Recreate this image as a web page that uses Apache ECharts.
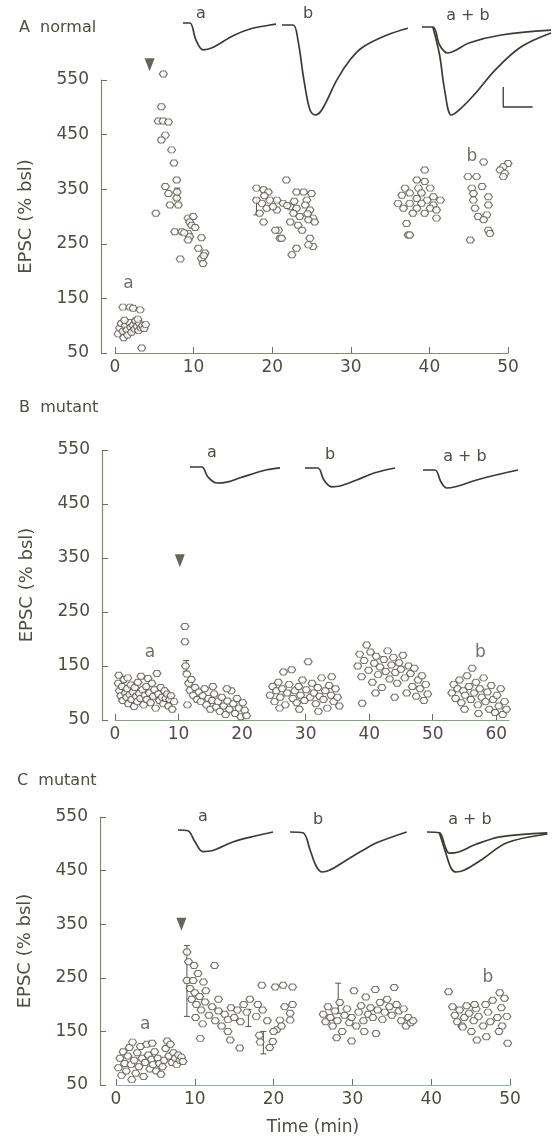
<!DOCTYPE html>
<html>
<head>
<meta charset="utf-8">
<script src="https://cdn.jsdelivr.net/npm/echarts@6.0.0/dist/echarts.min.js"></script>
<style>
  html, body { margin: 0; padding: 0; background: #fff; }
  #chart { width: 554px; height: 1144px; }
</style>
</head>
<body>
<div id="chart"></div>
<script>
// EPSC (% of baseline) against time (min) -- [time, value]
const normalBaseline = [[0.4,85],[0.6,96],[0.8,104],[1.0,90],[1.1,78],[1.3,100],[1.5,92],[1.6,83],[1.8,106],[2.0,97],[2.1,88],[2.3,101],[2.5,94],[2.6,109],[2.8,99],[3.0,91],[3.1,104],[3.3,96],[3.5,100],[3.7,95],[3.9,102],[1.0,134],[1.9,134],[2.3,132],[3.2,129],[3.4,59],[1.2,110],[2.9,112]];
const normalPost = [[6.15,561],[5.9,501],[5.5,475],[6.1,475],[6.8,473],[6.4,449],[5.9,440],[7.2,422],[7.5,398],[7.85,367],[6.4,355],[6.8,342],[7.85,334],[8.05,321],[7.0,321],[5.2,306],[9.3,297],[9.95,300],[9.5,290],[9.75,284],[7.6,272],[8.5,272],[9.3,269],[9.5,263],[9.3,257],[11.0,261],[10.6,242],[11.45,233],[11.0,223],[11.2,214],[8.3,222],[8.8,270],[10.2,280],[11.3,228],[7.9,345]];
const normalMid = [[18.0,352],[18.9,349],[19.5,345],[20.6,330],[18.0,330],[18.7,324],[19.3,315],[20.6,312],[18.9,290],[18.4,306],[20.8,275],[21.0,260],[21.8,367],[23.1,345],[24.0,345],[25.0,342],[24.4,330],[24.2,321],[19.7,330],[21.4,324],[22.3,318],[23.1,315],[24.8,312],[25.2,297],[24.6,294],[25.4,290],[22.7,306],[23.5,300],[22.3,290],[23.3,284],[23.8,275],[20.4,275],[21.2,260],[24.8,260],[25.2,245],[24.6,248],[23.1,242],[22.5,230],[19.0,338],[21.9,320],[22.8,328],[20.1,318],[24.5,305]];
const normalLate = [[38.4,367],[39.4,385],[39.4,364],[36.9,352],[37.5,343],[38.6,352],[40.1,352],[39.0,343],[40.5,336],[36.5,339],[38.4,333],[39.7,330],[41.4,330],[36.0,324],[37.5,324],[39.0,324],[40.5,321],[36.7,315],[38.4,315],[40.1,315],[40.9,312],[37.9,306],[39.4,306],[40.9,297],[37.1,287],[37.3,266],[37.5,266]];
const normalEnd = [[46.9,400],[50.0,397],[49.4,391],[49.0,385],[49.6,379],[49.4,373],[44.9,373],[46.0,373],[45.4,352],[46.7,355],[45.6,342],[45.6,330],[47.5,336],[45.8,315],[47.5,321],[46.2,300],[47.3,303],[46.9,294],[47.5,275],[47.7,269],[45.2,257]];

const mutantBBaseline = [[0.5,118],[0.7,104],[0.9,95],[1.1,112],[1.2,86],[1.4,125],[1.6,100],[1.8,92],[1.9,108],[2.1,80],[2.3,97],[2.5,115],[2.6,88],[2.8,102],[3.0,75],[3.1,110],[3.3,94],[3.5,84],[3.6,120],[3.8,99],[4.0,90],[4.1,131],[4.3,106],[4.5,78],[4.7,96],[4.9,112],[5.0,88],[5.2,127],[5.4,100],[5.6,82],[5.8,118],[6.0,94],[6.2,106],[6.4,72],[6.6,136],[6.8,98],[7.0,86],[7.2,110],[7.4,92],[7.6,80],[7.8,104],[8.0,90],[8.2,98],[8.4,76],[8.6,88],[8.8,95],[9.0,70],[9.3,84],[0.6,133],[2.0,128]];
const mutantBPost = [[11.0,223],[11.0,195],[11.1,150],[11.3,135],[11.4,78],[11.6,118],[11.8,105],[12.0,125],[12.3,96],[12.6,110],[12.9,88],[13.2,102],[13.5,84],[13.8,95],[14.1,108],[14.4,78],[14.7,90],[15.0,70],[15.3,86],[15.6,98],[15.9,74],[16.2,84],[16.5,66],[16.8,92],[17.1,76],[17.4,60],[17.7,85],[18.0,70],[18.3,104],[18.6,80],[18.9,62],[19.2,90],[19.5,72],[19.8,56],[20.1,82],[20.4,68],[20.7,58],[15.4,112],[17.6,108]];
const mutantBMid = [[24.4,96],[24.8,112],[25.1,84],[25.4,104],[25.7,120],[26.0,92],[26.3,108],[26.5,139],[26.8,78],[27.1,100],[27.4,116],[27.8,143],[28.0,90],[28.3,104],[28.6,82],[28.9,112],[29.2,96],[29.5,124],[29.8,86],[30.1,106],[30.4,158],[30.7,92],[31.0,118],[31.3,100],[31.6,80],[31.9,110],[32.2,94],[32.5,128],[32.8,88],[33.1,104],[33.4,72],[33.7,114],[34.0,96],[34.1,130],[34.4,84],[34.7,108],[35.0,92],[35.3,76],[25.9,72],[32.0,66],[29.0,70]];
const mutantBLate = [[38.2,150],[38.5,172],[38.8,130],[38.9,81],[39.2,160],[39.6,189],[39.9,142],[40.2,176],[40.5,120],[40.8,155],[41.1,168],[41.4,134],[41.7,148],[42.0,110],[42.3,162],[42.6,140],[42.9,178],[43.2,126],[43.5,152],[43.8,166],[44.1,138],[44.4,118],[44.7,156],[45.0,144],[45.3,170],[45.6,128],[45.9,100],[46.2,150],[46.5,136],[46.8,112],[47.1,146],[47.4,94],[47.7,124],[48.0,108],[48.3,132],[48.6,86],[48.9,116],[49.2,98],[44.0,92],[41.0,100]];
const mutantBEnd = [[53.0,100],[53.3,116],[53.6,90],[53.9,108],[54.2,124],[54.5,82],[54.8,104],[55.1,96],[55.4,132],[55.7,112],[56.0,88],[56.2,146],[56.5,100],[56.8,120],[57.1,78],[57.4,108],[57.7,92],[58.0,128],[58.3,84],[58.6,102],[58.9,70],[59.2,114],[59.5,88],[59.8,64],[60.1,96],[60.4,76],[60.7,108],[61.0,60],[61.3,84],[61.6,70],[55.0,70],[57.2,62]];

const mutantCBaseline = [[0.3,82],[0.5,100],[0.7,68],[0.9,112],[1.1,90],[1.3,76],[1.5,104],[1.7,120],[1.9,88],[2.1,130],[2.3,96],[2.5,72],[2.7,110],[2.9,84],[3.1,122],[3.3,100],[3.5,66],[3.7,92],[3.9,126],[4.1,106],[4.3,80],[4.5,98],[4.7,88],[4.9,112],[5.1,76],[5.3,100],[5.5,90],[5.7,70],[5.9,84],[6.1,96],[6.3,118],[6.5,132],[6.7,104],[6.9,126],[7.1,92],[7.3,110],[7.5,100],[7.7,88],[7.9,106],[8.1,96],[8.3,102],[8.5,94],[4.6,128],[2.0,60]];
const mutantCPost = [[9.0,298],[9.2,280],[9.9,273],[12.5,273],[10.4,258],[9.0,245],[9.8,245],[11.1,242],[9.4,230],[10.0,222],[10.6,215],[11.4,226],[9.6,210],[10.2,200],[10.8,190],[11.3,205],[11.8,180],[12.2,196],[12.6,170],[13.0,188],[13.4,160],[13.8,182],[14.2,172],[14.6,194],[15.0,176],[15.4,190],[15.8,168],[16.2,200],[16.6,186],[17.0,210],[11.0,164],[10.7,137],[14.5,134],[15.7,119],[10.1,176],[13.0,210],[14.2,150]];
const mutantCPost2 = [[18.5,236],[20.2,233],[21.2,236],[22.4,233],[18.0,200],[18.6,190],[19.2,170],[18.2,143],[18.3,130],[21.4,196],[22.1,184],[20.8,171],[22.1,171],[20.4,153],[19.9,131],[21.0,160],[22.4,200],[20.0,150],[17.8,178],[19.5,120]];
const mutantCMid = [[26.3,182],[26.6,168],[26.9,196],[27.2,176],[27.5,160],[27.8,188],[28.1,170],[28.4,204],[28.7,150],[29.0,180],[29.3,192],[29.6,166],[29.9,176],[30.2,226],[30.5,160],[30.8,186],[31.1,198],[31.4,170],[31.7,214],[32.0,182],[32.3,194],[32.6,176],[32.9,228],[33.2,190],[33.5,204],[33.8,172],[34.1,186],[34.4,210],[34.7,196],[35.0,180],[35.3,232],[35.6,200],[35.9,188],[36.2,170],[36.5,192],[36.8,160],[37.1,176],[37.4,166],[37.7,170],[28.0,138],[29.9,132],[31.5,150],[33.0,146]];
const mutantCEnd = [[42.2,224],[42.7,196],[43.0,180],[43.3,168],[43.6,190],[43.9,160],[44.2,176],[44.5,198],[44.8,184],[45.1,150],[45.4,170],[45.7,192],[46.0,178],[45.8,134],[46.6,160],[46.9,200],[47.2,186],[47.5,168],[47.8,208],[48.7,222],[48.4,176],[48.9,194],[49.0,160],[49.3,212],[49.6,178],[49.7,128],[48.6,150],[44.0,158],[47.0,140],[45.5,200]];

// error bars [time, low, high]
const errA = [[7.9,330,352],[18.0,303,334]];
const errB = [[11.2,140,160]];
const errC = [[9.0,178,310],[16.8,159,191],[18.7,108,150],[28.2,184,240]];

// stimulus arrows [time, value]
const arrowA = [[4.4,578]];
const arrowB = [[10.2,345]];
const arrowC = [[8.3,350]];

// letters marking the sampled epochs [time, value]
const markA = [[1.7,178],[45.4,409]];
const markB = [[5.5,174],[57.5,174]];
const markC = [[3.7,162],[47.2,251]];
const markNames = ['a', 'b'];

// example current sweeps [ms, pA]
const sweepAa = [[0,0],[2.3,0],[4.3,-42],[6.7,-67],[9.7,-62],[16.7,-32],[22.3,-15],[29,-5],[31,-3]];
const sweepAb = [[0,0],[3.7,0],[5.3,-37],[7.3,-137],[9.3,-212],[11,-225],[13.3,-212],[18.3,-137],[22.7,-87],[27,-55],[35,-25],[42,-8]];
const sweepAabSmall = [[0,0],[3.7,0],[6,-45],[8.7,-65],[11,-60],[16,-40],[27,-20],[44,-8]];
const sweepAabLarge = [[3.7,0],[6,-70],[7.7,-157],[10,-220],[12.7,-207],[17.7,-170],[25,-107],[33.7,-50],[44,-15]];
const scaleBar = [[27.7,-150],[27.7,-200],[37.7,-200]];
const sweepBa = [[0,0],[3.9,0],[6,-25],[8.9,-40],[12.7,-37],[16.7,-27],[25.6,-7],[30,-2]];
const sweepBb = [[0,0],[4.3,0],[6.3,-30],[8.9,-47],[11.7,-45],[17.2,-30],[23.3,-12],[30,0]];
const sweepBab = [[0,0],[4,0],[6,-30],[7.9,-45],[10.7,-42],[17.9,-25],[25.7,-10],[31.7,0]];
const sweepCa = [[0,0],[3.3,-2],[5.7,-30],[8.3,-54],[11.3,-52],[18.3,-30],[25.7,-15],[31.7,-5]];
const sweepCb = [[0,0],[4.3,-2],[6.7,-45],[8.7,-85],[10.7,-100],[13.3,-95],[18.9,-70],[24,-47],[28.9,-27],[38.9,0]];
const sweepCabSmall = [[0,0],[4.3,-2],[6.3,-37],[7.7,-53],[11,-50],[16.6,-32],[25.3,-12],[41.7,-2]];
const sweepCabLarge = [[4.3,-2],[6.7,-57],[8.3,-90],[10,-100],[13,-95],[18.8,-70],[27.7,-27],[41.7,-5]];

const FONT = 'DejaVu Sans';
const INK = '#4f4c44';
const DOT = '#55524a';
const TRACE = '#3c3a32';
const hexSymbol = 'path://M2,0 L6,0 L8,3 L6,6 L2,6 L0,3 Z';

const chart = echarts.init(document.getElementById('chart'));

const grid = [], xAxis = [], yAxis = [], series = [];

// one scatter panel
function addPanel(p) {
  const gi = grid.length;
  grid.push({ left: p.left, top: p.top, width: p.width, height: p.height });
  const ticks = [];
  for (let v = 0; v <= p.max; v += 10) ticks.push(v);
  xAxis.push({
    gridIndex: gi, type: 'value', min: 0, max: p.max,
    axisLine: { onZero: false, lineStyle: { color: p.xColor, width: 1.2 } },
    axisTick: { inside: true, length: 6, customValues: ticks, lineStyle: { color: '#6f6c60' } },
    axisLabel: { customValues: ticks, color: INK, fontSize: 17, fontFamily: FONT, margin: 6 },
    splitLine: { show: false },
    name: p.xName || '', nameLocation: 'middle', nameGap: 34,
    nameTextStyle: { color: INK, fontSize: 17, fontFamily: FONT }
  });
  yAxis.push({
    gridIndex: gi, type: 'value', min: 50, max: 550, interval: 100, offset: p.offset,
    axisLine: { show: true, onZero: false, lineStyle: { color: '#8a8674', width: 1.2 } },
    axisTick: { show: true, inside: true, length: 6, lineStyle: { color: '#6f6c60' } },
    axisLabel: { color: INK, fontSize: 17, fontFamily: FONT, margin: 12, padding: [0, 0, 5, 0] },
    splitLine: { show: false },
    name: 'EPSC (% bsl)', nameLocation: 'middle', nameGap: 66,
    nameTextStyle: { color: INK, fontSize: 18, fontFamily: FONT }
  });
  series.push({
    type: 'custom', xAxisIndex: gi, yAxisIndex: gi, data: p.err, z: 2,
    renderItem: function (params, api) {
      const lo = api.coord([api.value(0), api.value(1)]);
      const hi = api.coord([api.value(0), api.value(2)]);
      const st = { stroke: DOT, lineWidth: 1 };
      return { type: 'group', children: [
        { type: 'line', shape: { x1: lo[0], y1: lo[1], x2: hi[0], y2: hi[1] }, style: st },
        { type: 'line', shape: { x1: lo[0] - 3, y1: lo[1], x2: lo[0] + 3, y2: lo[1] }, style: st },
        { type: 'line', shape: { x1: hi[0] - 3, y1: hi[1], x2: hi[0] + 3, y2: hi[1] }, style: st }
      ] };
    }
  });
  series.push({
    type: 'scatter', xAxisIndex: gi, yAxisIndex: gi, clip: false, z: 3,
    data: p.points, symbol: hexSymbol, symbolSize: [8, 6],
    itemStyle: { color: '#fff', borderColor: DOT, borderWidth: 1.1 }
  });
  series.push({
    type: 'scatter', xAxisIndex: gi, yAxisIndex: gi, clip: false, z: 4,
    data: p.arrow, symbol: 'triangle', symbolRotate: 180, symbolSize: [10, 13],
    itemStyle: { color: '#403d35' }
  });
  series.push({
    type: 'scatter', xAxisIndex: gi, yAxisIndex: gi, clip: false, z: 4,
    data: p.marks.map((m, i) => ({ value: m, name: markNames[i] })),
    symbolSize: 0,
    label: { show: true, formatter: '{b}', color: INK, fontSize: 17, fontFamily: FONT, position: 'inside' }
  });
}

// one small sweep frame, 3 px per ms and 0.4 px per pA
function addSweep(left, base, span, lines) {
  const gi = grid.length;
  grid.push({ left: left, top: base - 4, width: span * 3, height: 100 });
  xAxis.push({ gridIndex: gi, type: 'value', min: 0, max: span, show: false });
  yAxis.push({ gridIndex: gi, type: 'value', min: -240, max: 10, show: false });
  lines.forEach(l => {
    series.push({
      type: 'line', xAxisIndex: gi, yAxisIndex: gi, data: l.data, smooth: l.bar ? false : 0.35,
      showSymbol: false, clip: false,
      lineStyle: { color: TRACE, width: l.bar ? 1.3 : 1.7 }
    });
  });
}

addPanel({ left: 115, top: 80, width: 393, height: 273, max: 50, offset: 14, xColor: '#8a8674',
  points: [].concat(normalBaseline, normalPost, normalMid, normalLate, normalEnd),
  err: errA, arrow: arrowA, marks: markA });
addPanel({ left: 115, top: 450, width: 394, height: 270, max: 62, offset: 13, xColor: '#86a27f',
  points: [].concat(mutantBBaseline, mutantBPost, mutantBMid, mutantBLate, mutantBEnd),
  err: errB, arrow: arrowB, marks: markB });
addPanel({ left: 116, top: 817, width: 394, height: 268, max: 50, offset: 16, xColor: '#93aeae',
  points: [].concat(mutantCBaseline, mutantCPost, mutantCPost2, mutantCMid, mutantCEnd),
  err: errC, arrow: arrowC, marks: markC, xName: 'Time (min)' });

addSweep(183, 23, 32, [{ data: sweepAa }]);
addSweep(282, 25, 45, [{ data: sweepAb }]);
addSweep(422, 27, 45, [{ data: sweepAabSmall }, { data: sweepAabLarge }, { data: scaleBar, bar: true }]);
addSweep(190, 467, 32, [{ data: sweepBa }]);
addSweep(305, 468, 32, [{ data: sweepBb }]);
addSweep(423, 470, 34, [{ data: sweepBab }]);
addSweep(178, 830, 34, [{ data: sweepCa }]);
addSweep(290, 832, 40, [{ data: sweepCb }]);
addSweep(427, 832, 44, [{ data: sweepCabSmall }, { data: sweepCabLarge }]);

function txt(x, y, s, align) {
  return { type: 'text', x: x, y: y,
    style: { text: s, fill: INK, font: '16px "DejaVu Sans"', textAlign: align || 'center', textVerticalAlign: 'middle' } };
}

chart.setOption({
  animation: false,
  backgroundColor: '#fff',
  grid: grid, xAxis: xAxis, yAxis: yAxis, series: series,
  graphic: [
    txt(19, 28, 'A  normal', 'left'),
    txt(19, 408, 'B  mutant', 'left'),
    txt(17, 781, 'C  mutant', 'left'),
    txt(201, 14, 'a'), txt(308, 14, 'b'), txt(468, 16, 'a + b'),
    txt(212, 453, 'a'), txt(330, 455, 'b'), txt(465, 457, 'a + b'),
    txt(203, 817, 'a'), txt(318, 820, 'b'), txt(470, 820, 'a + b')
  ]
});
</script>
</body>
</html>
